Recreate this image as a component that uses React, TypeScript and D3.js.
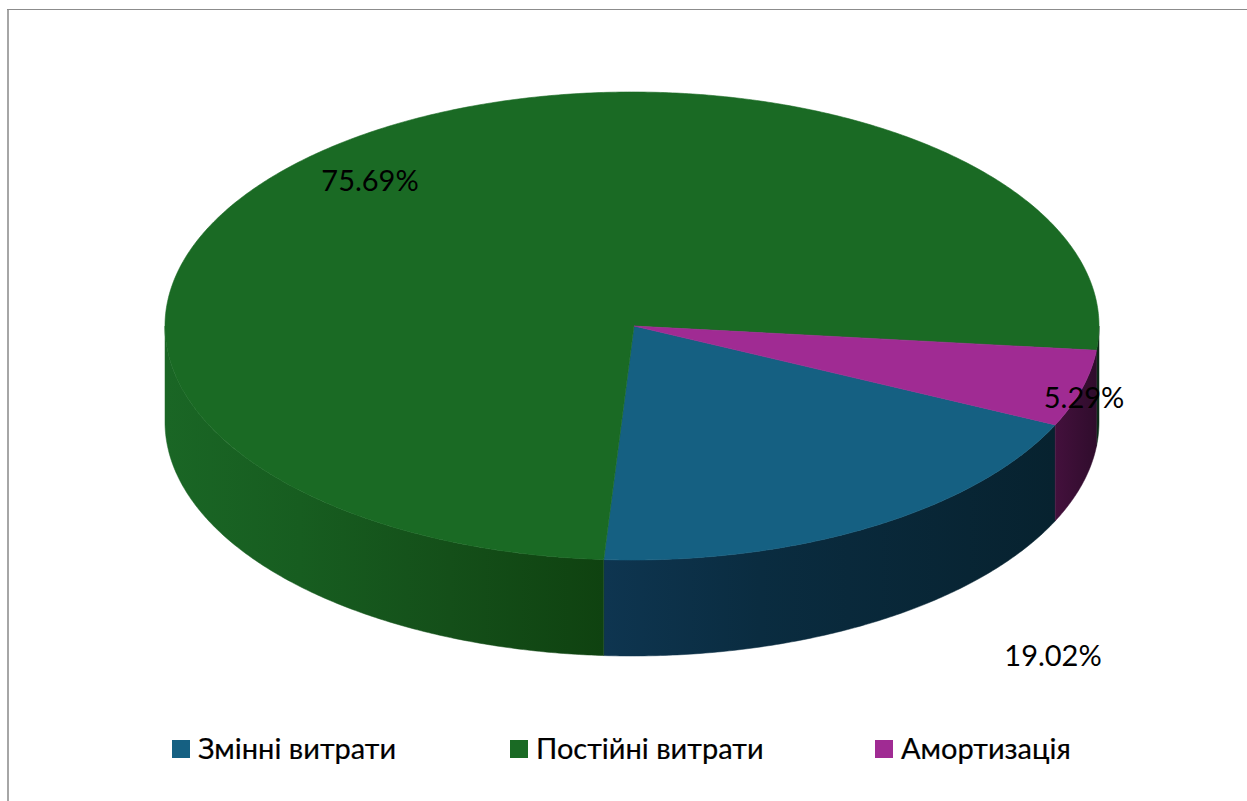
import React from "react";
import * as d3 from "d3";

const categories = ["Змінні витрати", "Постійні витрати", "Амортизація"];
const shares = [19.02, 75.69, 5.29];
const labels = ["19.02%", "75.69%", "5.29%"];
const topColors = ["#156082", "#1A6A24", "#A02B93"];

const W = 1247, H = 801;
const deg = Math.PI / 180;
const FONT = "Lato, 'Noto Sans', sans-serif";

const xScale = d3.scaleLinear().domain([-1, 1]).range([165, 1099]);
const yTop = d3.scaleLinear().domain([-1, 1]).range([92, 560]);
const DEPTH = 96;

const pie = d3.pie<number>().sort(null).startAngle(115 * deg).endAngle(475 * deg);
const arcs = pie(shares);

const line = d3.line<[number, number]>().x((d) => d[0]).y((d) => d[1]);

const rim = (a0: number, a1: number) => {
  const n = Math.max(2, Math.ceil(Math.abs(a1 - a0) / (0.5 * deg)));
  return d3.range(n + 1).map((i) => a0 + ((a1 - a0) * i) / n);
};
const px = (a: number): [number, number] => [xScale(Math.sin(a)), yTop(-Math.cos(a))];

// Visible side wall lies where the clockwise-from-top angle is between 90° and 270° (mod 360).
const wallPaths = (a0: number, a1: number) => {
  const out: string[] = [];
  for (const k of [0, 1]) {
    const lo = Math.max(a0, 90 * deg + k * 360 * deg);
    const hi = Math.min(a1, 270 * deg + k * 360 * deg);
    if (hi > lo) {
      const r = rim(lo, hi).map(px);
      const b = r.map(([x, y]) => [x, y + DEPTH] as [number, number]).reverse();
      out.push((line([...r, ...b]) as string) + "Z");
    }
  }
  return out;
};

const topPath = (a0: number, a1: number) => {
  const c: [number, number] = [xScale(0) + 2, yTop(0)];
  return (line([c, ...rim(a0, a1).map(px)]) as string) + "Z";
};

const wallStops: [number, string][][] = [
  [[604, "#0E3550"], [760, "#0A2C40"], [1056, "#07222F"]],
  [[165, "#1A6625"], [300, "#175D20"], [450, "#144F19"], [604, "#0F4210"], [1098, "#0C2A18"]],
  [[1056, "#43103C"], [1099, "#2E0C2B"]],
];

const legendX = [172, 510, 875];
const labelPos: [number, number][] = [[1053, 666], [370, 191], [1084, 408]];

export default function App() {
  return (
    <svg width={W} height={H} style={{ position: "absolute", left: 0, top: 0, background: "#fff" }}>
      <defs>
        {wallStops.map((stops, i) => (
          <linearGradient key={i} id={`wall${i}`} gradientUnits="userSpaceOnUse"
            x1={stops[0][0]} x2={stops[stops.length - 1][0]} y1={0} y2={0}>
            {stops.map(([x, c], j) => (
              <stop key={j} offset={(x - stops[0][0]) / (stops[stops.length - 1][0] - stops[0][0])} stopColor={c} />
            ))}
          </linearGradient>
        ))}
      </defs>
      <path d={`M8,${H}V9`} fill="none" stroke="#a6a6a6" strokeWidth={2} />
      <path d={`M7,9.5H${W}`} fill="none" stroke="#8c8c8c" strokeWidth={1} />
      {arcs.map((a, i) =>
        wallPaths(a.startAngle, a.endAngle).map((d, j) => (
          <path key={`${i}-${j}`} d={d} fill={`url(#wall${i})`} stroke={`url(#wall${i})`} strokeWidth={0.5} />
        ))
      )}
      {arcs.map((a, i) => (
        <path key={i} d={topPath(a.startAngle, a.endAngle)} fill={topColors[i]} stroke={topColors[i]} strokeWidth={0.6} />
      ))}
      {labels.map((t, i) => (
        <text key={t} x={labelPos[i][0]} y={labelPos[i][1]} textAnchor="middle" fontFamily={FONT} fontSize={29} fill="#000">{t}</text>
      ))}
      {categories.map((c, i) => (
        <g key={c}>
          <rect x={legendX[i]} y={740} width={18} height={18} fill={topColors[i]} />
          <text x={legendX[i] + 26} y={759} fontFamily={FONT} fontSize={29} fill="#000" stroke="#000" strokeWidth={0.2}>{c}</text>
        </g>
      ))}
    </svg>
  );
}
